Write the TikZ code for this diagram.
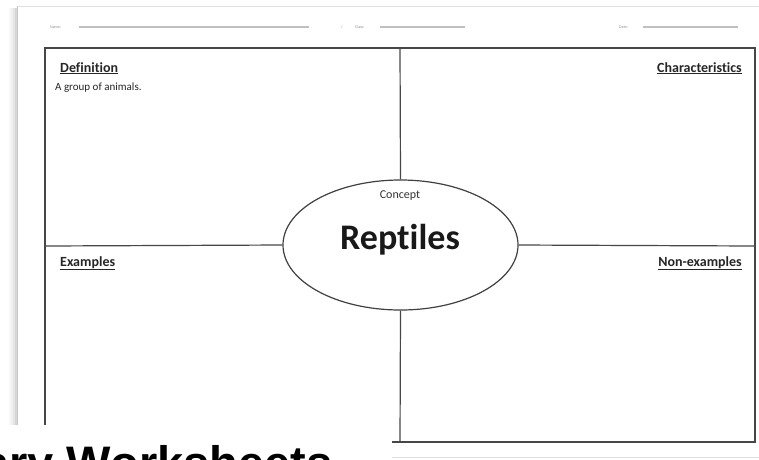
\documentclass[tikz,border=0pt]{standalone}
\usepackage{fontspec}
\setmainfont{Carlito}[Ligatures={NoCommon,NoRare}]
\newfontfamily\bannerfont{Liberation Sans}
\usetikzlibrary{shapes.geometric}

\tikzset{
  frameline/.style={draw=black!72,line width=1.2pt},
  quadhead/.style={inner sep=0pt,font=\bfseries\fontsize{14}{16}\selectfont,text=black!85},
  formline/.style={draw=black!25,line width=1.4pt},
  formtext/.style={inner sep=0pt,font=\fontsize{4}{5}\selectfont,text=black!45}
}

\begin{document}
\begin{tikzpicture}[x=1pt,y=-1pt]
\useasboundingbox (0,0) rectangle (759,459);
\fill[white] (0,0) rectangle (759,459);

% sheet edge and shadow
\foreach \s/\c in {10/3,12/6,14/10,16/16}
  \draw[black!\c,line width=2pt] (\s,8) -- (\s,425);
\fill[white] (17,6) rectangle (759,425);
\draw[black!12,line width=1pt] (17,6) -- (759,6);
\draw[black!22,line width=0.8pt] (17,6) -- (17,425);

% name / class / date line
\node[formtext,anchor=base west] (nametxt) at (50,28) {Name:};
\coordinate (name1) at (79,27);   \coordinate (name2) at (309,27);
\draw[formline] (name1) -- (name2);
\node[formtext,anchor=base west] at (311,28) {,};
\node[formtext,anchor=base west] at (341,28) {/};
\node[formtext,anchor=base west] (classtxt) at (355,28) {Class:};
\coordinate (class1) at (380,27); \coordinate (class2) at (465,27);
\draw[formline] (class1) -- (class2);
\node[formtext,anchor=base west] (datetxt) at (619,28) {Date:};
\coordinate (date1) at (643,27);  \coordinate (date2) at (738,27);
\draw[formline] (date1) -- (date2);

% frame
\coordinate (tl) at (45,48);   \coordinate (br) at (755,442);
\coordinate (topmid) at (400,48);  \coordinate (botmid) at (400,442);
\coordinate (leftmid) at (45,246); \coordinate (rightmid) at (755,246);
\draw[frameline] (tl) rectangle (br);

\node[draw=black!75,line width=1.2pt,ellipse,minimum width=235pt,minimum height=130pt,inner sep=0pt] (concept) at (400.5,245) {};
\draw[frameline] (topmid) -- (concept.north);
\draw[frameline] (concept.south) -- (botmid);
\draw[frameline] (leftmid) -- (concept.west);
\draw[frameline] (concept.east) -- (rightmid);

\node[inner sep=0pt,font=\fontsize{12}{14}\selectfont,text=black!80] (concepttxt) at (400,196) {Concept};
\node[inner sep=0pt,font=\bfseries\fontsize{36}{40}\selectfont,text=black!90] (reptiles) at (400,240) {Reptiles};

% quadrant headings
\node[quadhead,anchor=base west] (defn) at (60,72) {\underline{Definition}};
\node[inner sep=0pt,anchor=base west,font=\fontsize{11}{13}\selectfont,text=black!85] (defntxt) at (55,90) {A group of animals.};
\node[quadhead,anchor=base east] (chars) at (742,72) {\underline{Characteristics}};
\node[quadhead,anchor=base west] (exmp) at (60,266) {\underline{Examples}};
\node[quadhead,anchor=base east] (nonexmp) at (742,266) {\underline{Non-examples}};

% banner over the bottom
\fill[white] (0,425) rectangle (392,459);
\draw[black!12,line width=1pt] (392,457) -- (759,457);
\begin{scope}
\clip (0,0) rectangle (759,459);
\node[inner sep=0pt,anchor=base west,font=\bannerfont\bfseries\fontsize{47}{50}\selectfont] (banner) at (-17,479) {ary Worksheets};
\end{scope}
\end{tikzpicture}
\end{document}
